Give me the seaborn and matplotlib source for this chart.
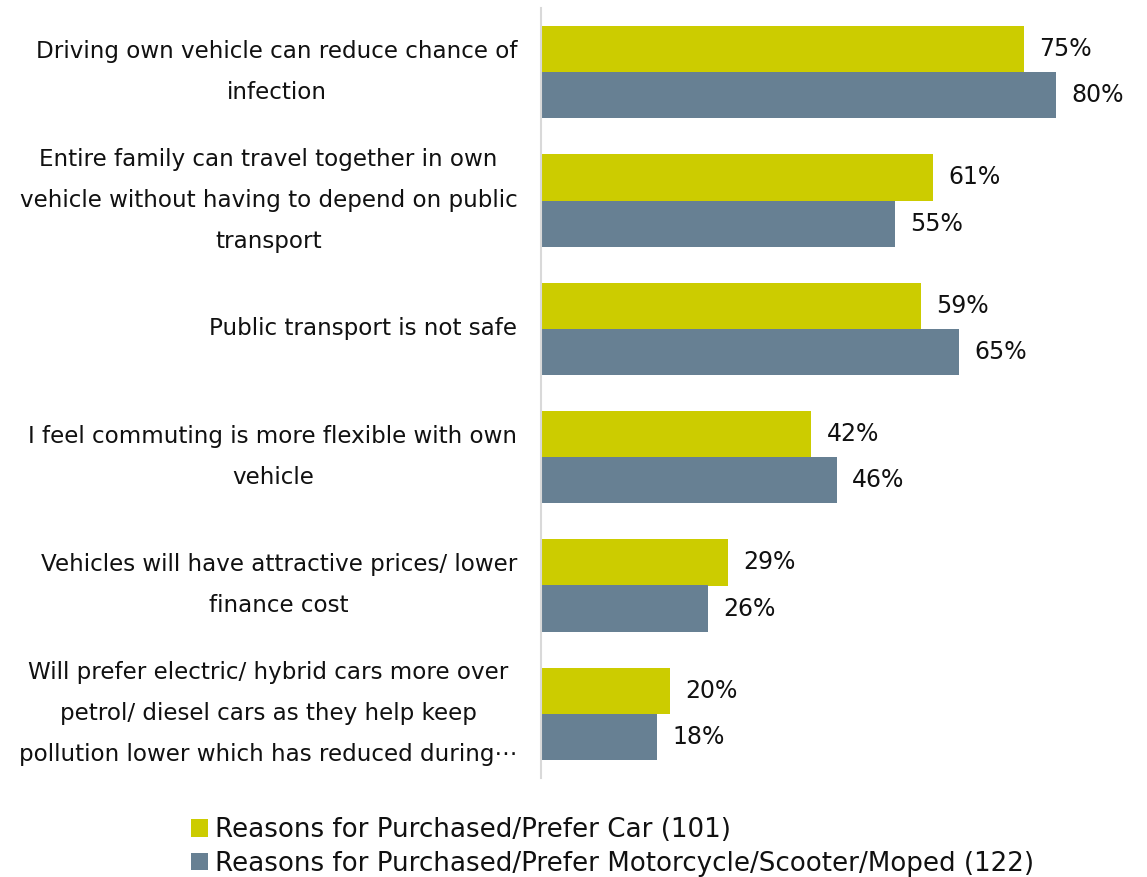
import matplotlib
matplotlib.use("Agg")
import matplotlib.pyplot as plt
import seaborn as sns
import pandas as pd
from matplotlib.patches import Patch

categories = [
    "Driving own vehicle can reduce chance of\ninfection",
    "Entire family can travel together in own\nvehicle without having to depend on public\ntransport",
    "Public transport is not safe",
    "I feel commuting is more flexible with own\nvehicle",
    "Vehicles will have attractive prices/ lower\nfinance cost",
    "Will prefer electric/ hybrid cars more over\npetrol/ diesel cars as they help keep\npollution lower which has reduced during\u22ef",
]
series_names = [
    "Reasons for Purchased/Prefer Car (101)",
    "Reasons for Purchased/Prefer Motorcycle/Scooter/Moped (122)",
]
car_values = [75, 61, 59, 42, 29, 20]
moto_values = [80, 55, 65, 46, 26, 18]
colors = ["#CCCC00", "#678093"]

df = pd.DataFrame({
    "category": categories * 2,
    "series": [series_names[0]] * len(categories) + [series_names[1]] * len(categories),
    "value": car_values + moto_values,
})

sns.set_theme(style="white")
plt.rcParams["font.family"] = ["DejaVu Sans"]

fig = plt.figure(figsize=(11.47, 8.77), dpi=100)
ax = fig.add_axes([541 / 1147, 1 - 778 / 877, (1120 - 541) / 1147, 770 / 877])

sns.barplot(data=df, y="category", x="value", hue="series", hue_order=series_names,
            order=categories, palette=colors, width=0.72, orient="h", ax=ax,
            saturation=1, legend=False, linewidth=0)

for cont in ax.containers:
    ax.bar_label(cont, labels=[f"{int(v)}%" for v in cont.datavalues],
                 padding=11, fontsize=17, color="#111111")

ax.set_xlim(0, 90)
ax.set_ylim(5.5, -0.5)
ax.set_xlabel("")
ax.set_ylabel("")
ax.set_xticks([])
for s in ["top", "right", "bottom"]:
    ax.spines[s].set_visible(False)
ax.spines["left"].set_color("#D9D9D9")
ax.spines["left"].set_linewidth(1.5)
ax.tick_params(axis="y", length=0, pad=17)
for lbl in ax.get_yticklabels():
    lbl.set_fontsize(16.6)
    lbl.set_multialignment("center")
    lbl.set_linespacing(2.0)
    lbl.set_color("#111111")
    lbl.set_verticalalignment("center")

handles = [Patch(facecolor=c, edgecolor="none") for c in colors]
fig.legend(handles, series_names, loc="upper left",
           bbox_to_anchor=(178 / 1147, 1 - 804 / 877), frameon=False,
           fontsize=18.8, handlelength=0.65, handleheight=0.65, handletextpad=0.25,
           labelspacing=0.3, borderpad=0, labelcolor="#111111")

fig.savefig("out.png", dpi=100)
